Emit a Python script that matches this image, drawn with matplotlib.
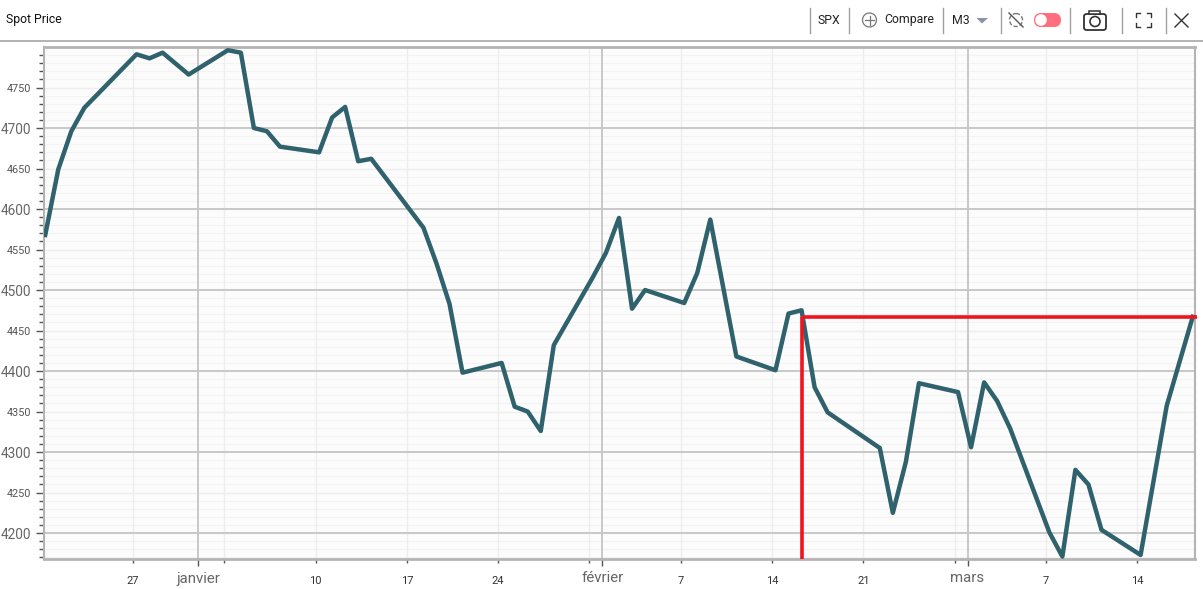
import numpy as np
import pandas as pd
import matplotlib
matplotlib.use("Agg")
import matplotlib.pyplot as plt
import matplotlib.dates as mdates
from matplotlib.patches import FancyBboxPatch, Circle, Rectangle, Polygon

dates = ["2021-12-20", "2021-12-21", "2021-12-22", "2021-12-23", "2021-12-27", "2021-12-28", "2021-12-29",
         "2021-12-31", "2022-01-03", "2022-01-04", "2022-01-05", "2022-01-06", "2022-01-07", "2022-01-10",
         "2022-01-11", "2022-01-12", "2022-01-13", "2022-01-14", "2022-01-18", "2022-01-19", "2022-01-20",
         "2022-01-21", "2022-01-24", "2022-01-25", "2022-01-26", "2022-01-27", "2022-01-28", "2022-01-31",
         "2022-02-01", "2022-02-02", "2022-02-03", "2022-02-04", "2022-02-07", "2022-02-08", "2022-02-09",
         "2022-02-11", "2022-02-14", "2022-02-15", "2022-02-16", "2022-02-17", "2022-02-18", "2022-02-22",
         "2022-02-23", "2022-02-24", "2022-02-25", "2022-02-28", "2022-03-01", "2022-03-02", "2022-03-03",
         "2022-03-04", "2022-03-07", "2022-03-08", "2022-03-09", "2022-03-10", "2022-03-11", "2022-03-14",
         "2022-03-16", "2022-03-18"]
spot = [4568, 4649, 4696, 4725, 4791, 4786, 4793,
        4766, 4796, 4793, 4700, 4696, 4677, 4670,
        4713, 4726, 4659, 4662, 4577, 4533, 4483,
        4398, 4410, 4356, 4350, 4326, 4432, 4516,
        4546, 4589, 4477, 4500, 4484, 4521, 4587,
        4418, 4401, 4471, 4475, 4380, 4349, 4305,
        4225, 4288, 4385, 4374, 4306, 4386, 4363,
        4329, 4201, 4171, 4278, 4260, 4204, 4173,
        4357, 4467]

month_ticks = ["2022-01-01", "2022-02-01", "2022-03-01"]
month_labels = ["janvier", "février", "mars"]
week_ticks = ["2021-12-27", "2022-01-03", "2022-01-10", "2022-01-17", "2022-01-24", "2022-01-31", "2022-02-07",
              "2022-02-14", "2022-02-21", "2022-02-28", "2022-03-07", "2022-03-14"]
week_labels = ["27", "", "10", "17", "24", "", "7", "14", "21", "", "7", "14"]
major_y = [4200, 4300, 4400, 4500, 4600, 4700]
mid_y = [4250, 4350, 4450, 4550, 4650, 4750]

ref_start = "2022-02-16"
ref_level = 4467

LINE = "#2f626c"
RED = "#f0141e"
GREY = "#c8c8c8"
TXT = "#666666"

W, H = 1203, 589
plt.rcParams["font.family"] = ["Roboto", "DejaVu Sans"]
fig = plt.figure(figsize=(W / 100, H / 100), dpi=100, facecolor="white")

# plot area in pixels
L, R, T, B = 44, 1195, 47, 559
ax = fig.add_axes([L / W, 1 - B / H, (R - L) / W, (B - T) / H])
ax.set_facecolor("#fcfcfc")

x = mdates.date2num(pd.to_datetime(dates)) + 0.27  # line sits a bit right of the ticks
x0 = mdates.date2num(pd.Timestamp("2021-12-27"))
ax.set_xlim(x0 - 89 / 13.04, x0 + 1062 / 13.04)
ax.set_ylim(4168, 4800)

ax.set_yticks(major_y + mid_y)
ax.set_yticklabels([str(v) for v in major_y + mid_y])
for lab, v in zip(ax.get_yticklabels(), major_y + mid_y):
    lab.set_fontsize(9.8 if v in major_y else 7.8)
    lab.set_color(TXT if v in major_y else "#555555")
ax.set_yticks(np.arange(4170, 4800, 10), minor=True)
ax.tick_params(axis="y", which="major", length=5.8, width=1, color="#555555", pad=3.5)
ax.tick_params(axis="y", which="minor", length=3.6, width=1, color="#555555")

for v in np.arange(4170, 4800, 10):
    ax.axhline(v, color="#f3f3f3", lw=0.8, zorder=1)
for v in mid_y:
    ax.axhline(v, color="#eeeeee", lw=1, zorder=1)
for v in major_y:
    ax.axhline(v, color=GREY, lw=1.4, zorder=2)

tick_w = mdates.date2num(pd.to_datetime(week_ticks))
tick_m = mdates.date2num(pd.to_datetime(month_ticks))
for v in tick_w:
    ax.axvline(v, color="#ededed", lw=1, zorder=1)
for v in tick_m:
    ax.axvline(v, color=GREY, lw=1.4, zorder=2)

ax.set_xticks(list(tick_m))
ax.set_xticklabels(month_labels, fontsize=10.8, color=TXT)
ax.tick_params(axis="x", which="major", length=5, width=1, color="#555555", pad=4)
ax.set_xticks(tick_w, minor=True)
ax.set_xticklabels(week_labels, minor=True, fontsize=8, color="#333333")
ax.tick_params(axis="x", which="minor", length=3, width=1, color="#555555", pad=9)

for side in ["top", "bottom", "left", "right"]:
    ax.spines[side].set_color("#b4b4b4")
    ax.spines[side].set_linewidth(2 if side in ("top", "bottom") else 1.5)

ax.plot(x, spot, color=LINE, lw=3.2, solid_joinstyle="round", zorder=4)

# red reference lines
xr = mdates.date2num(pd.Timestamp(ref_start)) + 0.27
ax.plot([xr, xr], [4168, ref_level], color=RED, lw=2.6, zorder=5, solid_capstyle="butt")
ax.plot([xr, ax.get_xlim()[1] + 0.15], [ref_level, ref_level], color=RED, lw=2.6, zorder=5,
        clip_on=False, solid_capstyle="butt")

# toolbar, drawn in pixel coordinates
bar = fig.add_axes([0, 0, 1, 1], zorder=10)
bar.set_xlim(0, W)
bar.set_ylim(H, 0)
bar.axis("off")
bar.patch.set_alpha(0)

bar.plot([0, W], [40.5, 40.5], color="#a5a5a5", lw=1.2)
bar.text(6, 20, "Spot Price", fontsize=8.8, color="#111111", va="center")
for px in [809.5, 848.5, 942.5, 1000.5, 1069.5, 1121.5, 1165.5]:
    bar.plot([px, px], [8, 33], color="#a0a0a0", lw=1)
bar.text(828.5, 20, "SPX", fontsize=8.8, color="#222222", ha="center", va="center")
bar.add_patch(Circle((869.5, 20), 7, fill=False, ec="#777777", lw=0.9))
bar.plot([865, 874], [20, 20], color="#777777", lw=0.9)
bar.plot([869.5, 869.5], [15.5, 24.5], color="#777777", lw=0.9)
bar.text(884, 20, "Compare", fontsize=8.8, color="#222222", va="center")
bar.text(952, 20, "M3", fontsize=8.8, color="#222222", va="center")
bar.add_patch(Polygon([[976.5, 18], [988, 18], [982, 23.5]], fc="#8a93a6", ec="none"))

# sync icon
bar.add_patch(Circle((1016, 20), 6.5, fill=False, ec="#777777", lw=1, ls=(0, (3, 1.5))))
bar.plot([1009, 1023], [13, 27], color="#555555", lw=1)

# toggle
bar.add_patch(FancyBboxPatch((1034, 13), 27, 14, boxstyle="round,pad=0,rounding_size=7",
                             fc="#ff6f80", ec="none"))
bar.add_patch(Circle((1041, 20), 5.8, fc="white", ec="none"))

# camera
bar.add_patch(FancyBboxPatch((1084, 14), 22, 16, boxstyle="round,pad=0,rounding_size=2.5",
                             fc="white", ec="#333333", lw=1.3))
bar.add_patch(Rectangle((1089, 11), 11, 3, fc="white", ec="#333333", lw=1.1))
bar.add_patch(Circle((1095, 21.5), 5, fc="white", ec="#333333", lw=1.2))

# fullscreen corners
for cx, cy, dx, dy in [(1136, 13, 1, 1), (1151, 13, -1, 1), (1136, 27, 1, -1), (1151, 27, -1, -1)]:
    bar.plot([cx + 4 * dx, cx, cx], [cy, cy, cy + 4 * dy], color="#333333", lw=1)

# close
bar.plot([1175, 1188], [14, 27], color="#333333", lw=1)
bar.plot([1175, 1188], [27, 14], color="#333333", lw=1)

fig.savefig("out.png", dpi=100, facecolor="white")
